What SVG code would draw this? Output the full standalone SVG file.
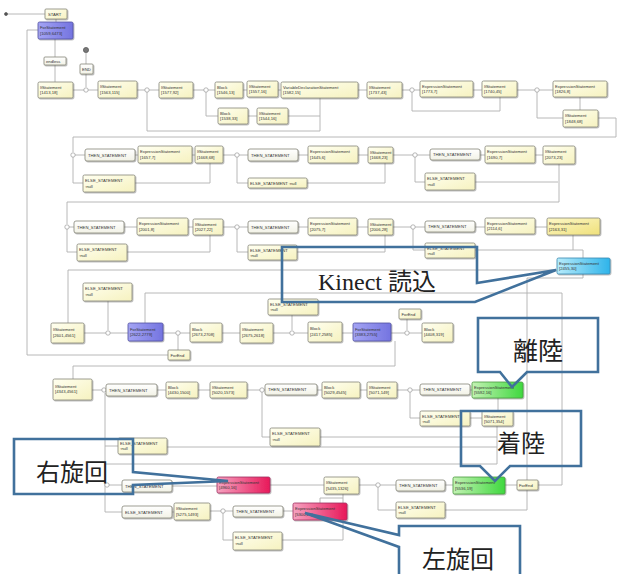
<svg xmlns="http://www.w3.org/2000/svg" width="620" height="574" viewBox="0 0 620 574">
<defs>
<linearGradient id="gy" x1="0" y1="0" x2="1" y2="1"><stop offset="0" stop-color="#fffff0"/><stop offset="1" stop-color="#f6f2c0"/></linearGradient>
<linearGradient id="gy2" x1="0" y1="0" x2="1" y2="1"><stop offset="0" stop-color="#fdf8c8"/><stop offset="1" stop-color="#efe07a"/></linearGradient>
<linearGradient id="gw" x1="0" y1="0" x2="0" y2="1"><stop offset="0" stop-color="#ffffff"/><stop offset="1" stop-color="#f2f2e6"/></linearGradient>
<linearGradient id="gp" x1="0" y1="0" x2="1" y2="0"><stop offset="0" stop-color="#a4a4f4"/><stop offset="1" stop-color="#7474e0"/></linearGradient>
<linearGradient id="gb" x1="0" y1="0" x2="1" y2="0"><stop offset="0" stop-color="#b8ecfb"/><stop offset="1" stop-color="#2fb4ea"/></linearGradient>
<linearGradient id="gg" x1="0" y1="0" x2="1" y2="0"><stop offset="0" stop-color="#c4f2b4"/><stop offset="1" stop-color="#3fd83f"/></linearGradient>
<linearGradient id="gr" x1="0" y1="0" x2="1" y2="0"><stop offset="0" stop-color="#f6a2c0"/><stop offset="1" stop-color="#e8195a"/></linearGradient>
<filter id="sh" x="-10%" y="-10%" width="130%" height="150%"><feDropShadow dx="0.8" dy="0.9" stdDeviation="0.6" flood-color="#000" flood-opacity="0.35"/></filter>
</defs>
<style>
.nd rect{stroke:#858578;stroke-width:0.8;filter:url(#sh)}
.y rect{fill:url(#gy)}
.y2 rect{fill:url(#gy2)}
.w rect{fill:url(#gw)}
.p rect{fill:url(#gp);stroke:#5050a0}
.b rect{fill:url(#gb);stroke:#3a88b0}
.g rect{fill:url(#gg);stroke:#4a9a40}
.r rect{fill:url(#gr);stroke:#a03060}
.nd text{font-family:"Liberation Sans",Arial,sans-serif;font-size:4.2px;fill:#333}
.c path{fill:none;stroke:#b0b0b0;stroke-width:0.9}
.j circle{fill:#fff;stroke:#999;stroke-width:0.7}
.co path{fill:none;stroke:#41719c;stroke-width:2.6;stroke-linejoin:miter}
.co text{font-family:"Liberation Serif","Noto Sans CJK JP",serif;fill:#222}
</style>
<rect width="620" height="574" fill="#fff"/>

<g id="connectors" class="c">
<path d="M6,14 H45"/>
<path d="M56,19 V22"/>
<path d="M55,39 V57"/>
<path d="M55,65 V82"/>
<path d="M73,90 H98"/>
<path d="M86,53 V64 M86,74 V87"/>
<path d="M137,90 H159"/>
<path d="M147,90 V131 H320 V98"/>
<path d="M193,90 H215"/>
<path d="M206,90 V116 H218"/>
<path d="M248,116 H257 M288,116 H320"/>
<path d="M243,90 H247 M278,90 H281 M358,90 H367 M402,90 H420"/>
<path d="M412,90 V111 H500 V97"/>
<path d="M473,90 H482 M517,90 H553"/>
<path d="M537,90 V118 H563"/>
<path d="M580,97 V110"/>
<path d="M598,118 H616 V137 H73 V152"/>
<path d="M73,155 H85 M135,155 H138 M192,155 H195 M223,155 H248 M298,155 H308 M358,155 H368 M393,155 H430 M480,155 H485 M535,155 H543"/>
<path d="M73,155 V183 H83"/>
<path d="M135,183 H210 V163"/>
<path d="M237,155 V183 H248"/>
<path d="M307,183 H385 V163"/>
<path d="M415,155 V182 H425"/>
<path d="M475,182 H558"/>
<path d="M559,164 V202 H67 V224"/>
<path d="M67,227 H74 M124,227 H137 M188,227 H193 M223,227 H248 M298,227 H308 M357,227 H368 M393,227 H425 M475,227 H485 M535,227 H547"/>
<path d="M67,227 V252 H77"/>
<path d="M127,252 H210 V235"/>
<path d="M237,227 V252 H248"/>
<path d="M297,252 H385 V235"/>
<path d="M413,227 V250 H425"/>
<path d="M475,250 H583 V258"/>
<path d="M573,235 V250"/>
<path d="M557,270 H68 V323"/>
<path d="M583,274 V278 H527 V480"/>
<path d="M84,333 H128"/>
<path d="M108,301 V330"/>
<path d="M145,323 V293 H562 V485 H538"/>
<path d="M163,333 H190"/>
<path d="M178,333 V350"/>
<path d="M168,355 H27 V30 H38"/>
<path d="M222,333 H240 M273,333 H308 M342,333 H353 M391,333 H422"/>
<path d="M292,315 V330"/>
<path d="M407,319 V330"/>
<path d="M395,341 V366 H73 V379"/>
<path d="M92,390 H106"/>
<path d="M105,393 V512 H122 M105,446 H118 M105,485 H122"/>
<path d="M157,390 H166 M198,390 H210 M247,390 H265 M317,390 H322 M360,390 H367 M397,390 H420 M470,390 H472"/>
<path d="M262,390 V437 H270"/>
<path d="M410,390 V418 H420 M470,418 H482"/>
<path d="M498,398 V411"/>
<path d="M497,426 V464 H105"/>
<path d="M320,437 H497 M167,447 H497"/>
<path d="M172,486 H217 M270,485 H324 M359,485 H396 M445,485 H453 M505,485 H517"/>
<path d="M378,485 V510 H396"/>
<path d="M445,510 H527 V490"/>
<path d="M172,512 H174 M210,511 H233 M283,511 H293"/>
<path d="M223,511 V540 H233"/>
<path d="M320,503 V498 H343 V494"/>
<path d="M282,540 H343 V498"/>
</g>

<g id="junctions" class="j">
<circle cx="6" cy="14" r="1.5" style="fill:#555;stroke:#555"/>
<circle cx="86" cy="50" r="2.6" style="fill:#777;stroke:#555"/>
<circle cx="86" cy="90" r="2.2"/><circle cx="147" cy="90" r="2.2"/><circle cx="206" cy="90" r="2.2"/><circle cx="412" cy="90" r="2.2"/><circle cx="537" cy="90" r="2.2"/>
<circle cx="73" cy="155" r="2.2"/><circle cx="237" cy="155" r="2.2"/><circle cx="415" cy="155" r="2.2"/>
<circle cx="67" cy="227" r="2.2"/><circle cx="237" cy="227" r="2.2"/><circle cx="413" cy="227" r="2.2"/>
<circle cx="108" cy="333" r="2.2"/><circle cx="178" cy="333" r="2.2"/><circle cx="292" cy="333" r="2.2"/><circle cx="407" cy="333" r="2.2"/>
<circle cx="104" cy="390" r="2.2"/><circle cx="262" cy="390" r="2.2"/><circle cx="410" cy="390" r="2.2"/>
<circle cx="107" cy="485" r="2.2"/><circle cx="378" cy="485" r="2.2"/><circle cx="223" cy="511" r="2.2"/>
</g>

<g id="n_start" class="nd y"><rect x="45" y="9" width="22" height="10" rx="1"/><text x="48" y="15.5">START</text></g>
<g id="n_for1" class="nd p"><rect x="38" y="22" width="35" height="17" rx="1.5"/><text x="40" y="29">ForStatement</text><text x="40" y="34.5">[1059,6473]</text></g>
<g id="n_endless" class="nd w"><rect x="44" y="57" width="22" height="8" rx="1"/><text x="46" y="62.5">endless</text></g>
<g id="n_end" class="nd w"><rect x="80" y="64" width="13" height="10" rx="1"/><text x="82" y="70.5">END</text></g>
<g id="n_if1" class="nd y"><rect x="38" y="82" width="35" height="16" rx="1.5"/><text x="40" y="88.5">IfStatement</text><text x="40" y="94">[1413,18]</text></g>
<g id="n_if2" class="nd y"><rect x="98" y="81" width="39" height="17" rx="1.5"/><text x="100" y="88">IfStatement</text><text x="100" y="93.5">[1563,115]</text></g>
<g id="n_if3" class="nd y"><rect x="159" y="82" width="34" height="16" rx="1.5"/><text x="161" y="88.5">IfStatement</text><text x="161" y="94">[1577,92]</text></g>
<g id="n_blk1" class="nd y"><rect x="215" y="82" width="28" height="16" rx="1.5"/><text x="217" y="88.5">Block</text><text x="217" y="94">[1546,13]</text></g>
<g id="n_if4" class="nd y"><rect x="247" y="81" width="31" height="16" rx="1.5"/><text x="249" y="87.5">IfStatement</text><text x="249" y="93">[1557,16]</text></g>
<g id="n_var" class="nd y"><rect x="281" y="82" width="77" height="16" rx="1.5"/><text x="283" y="88.5">VariableDeclarationStatement</text><text x="283" y="94">[1582,15]</text></g>
<g id="n_blk2" class="nd y"><rect x="218" y="108" width="30" height="16" rx="1.5"/><text x="220" y="114.5">Block</text><text x="220" y="120">[1538,33]</text></g>
<g id="n_if5" class="nd y"><rect x="257" y="108" width="31" height="16" rx="1.5"/><text x="259" y="114.5">IfStatement</text><text x="259" y="120">[1544,16]</text></g>
<g id="n_if6" class="nd y"><rect x="367" y="82" width="35" height="16" rx="1.5"/><text x="369" y="88.5">IfStatement</text><text x="369" y="94">[1737,43]</text></g>
<g id="n_ex1" class="nd y"><rect x="420" y="81" width="53" height="16" rx="1.5"/><text x="422" y="87.5">ExpressionStatement</text><text x="422" y="93">[1773,7]</text></g>
<g id="n_if7" class="nd y"><rect x="482" y="81" width="35" height="16" rx="1.5"/><text x="484" y="87.5">IfStatement</text><text x="484" y="93">[1740,45]</text></g>
<g id="n_ex2" class="nd y"><rect x="553" y="81" width="54" height="16" rx="1.5"/><text x="555" y="87.5">ExpressionStatement</text><text x="555" y="93">[1826,8]</text></g>
<g id="n_if8" class="nd y"><rect x="563" y="110" width="35" height="17" rx="1.5"/><text x="565" y="117">IfStatement</text><text x="565" y="122.5">[1848,68]</text></g>

<g id="n_then1" class="nd w"><rect x="85" y="149" width="50" height="12" rx="2"/><text x="88" y="156.5">THEN_STATEMENT</text></g>
<g id="n_ex3" class="nd y"><rect x="138" y="146" width="54" height="17" rx="1.5"/><text x="140" y="153">ExpressionStatement</text><text x="140" y="158.5">[1657,7]</text></g>
<g id="n_if9" class="nd y"><rect x="195" y="146" width="28" height="17" rx="1.5"/><text x="197" y="153">IfStatement</text><text x="197" y="158.5">[1668,68]</text></g>
<g id="n_then2" class="nd w"><rect x="248" y="149" width="50" height="12" rx="2"/><text x="251" y="156.5">THEN_STATEMENT</text></g>
<g id="n_ex4" class="nd y"><rect x="308" y="146" width="50" height="17" rx="1.5"/><text x="310" y="153">ExpressionStatement</text><text x="310" y="158.5">[1645,6]</text></g>
<g id="n_if10" class="nd y"><rect x="368" y="147" width="25" height="16" rx="1.5"/><text x="370" y="153.5">IfStatement</text><text x="370" y="159">[1668,23]</text></g>
<g id="n_then3" class="nd w"><rect x="430" y="149" width="50" height="11" rx="2"/><text x="433" y="156">THEN_STATEMENT</text></g>
<g id="n_ex5" class="nd y"><rect x="485" y="146" width="50" height="17" rx="1.5"/><text x="487" y="153">ExpressionStatement</text><text x="487" y="158.5">[1690,7]</text></g>
<g id="n_if11" class="nd y"><rect x="543" y="146" width="32" height="18" rx="1.5"/><text x="545" y="153">IfStatement</text><text x="545" y="158.5">[2073,23]</text></g>
<g id="n_else1" class="nd y"><rect x="83" y="175" width="52" height="17" rx="1.5"/><text x="85" y="182">ELSE_STATEMENT</text><text x="85" y="187.5">:null</text></g>
<g id="n_else2" class="nd y"><rect x="248" y="178" width="59" height="10" rx="1.5"/><text x="250" y="184.5">ELSE_STATEMENT :null</text></g>
<g id="n_else3" class="nd y"><rect x="425" y="173" width="50" height="17" rx="1.5"/><text x="427" y="180">ELSE_STATEMENT</text><text x="427" y="185.5">:null</text></g>

<g id="n_then4" class="nd w"><rect x="74" y="221" width="50" height="12" rx="2"/><text x="77" y="228.5">THEN_STATEMENT</text></g>
<g id="n_ex6" class="nd y"><rect x="137" y="218" width="51" height="17" rx="1.5"/><text x="139" y="225">ExpressionStatement</text><text x="139" y="230.5">[2001,8]</text></g>
<g id="n_if12" class="nd y"><rect x="193" y="219" width="30" height="16" rx="1.5"/><text x="195" y="225.5">IfStatement</text><text x="195" y="231">[2027,22]</text></g>
<g id="n_then5" class="nd w"><rect x="248" y="221" width="50" height="12" rx="2"/><text x="251" y="228.5">THEN_STATEMENT</text></g>
<g id="n_ex7" class="nd y"><rect x="308" y="218" width="49" height="17" rx="1.5"/><text x="310" y="225">ExpressionStatement</text><text x="310" y="230.5">[2075,7]</text></g>
<g id="n_if13" class="nd y"><rect x="368" y="219" width="25" height="16" rx="1.5"/><text x="370" y="225.5">IfStatement</text><text x="370" y="231">[2006,28]</text></g>
<g id="n_then6" class="nd w"><rect x="425" y="221" width="50" height="11" rx="2"/><text x="428" y="228">THEN_STATEMENT</text></g>
<g id="n_ex8" class="nd y"><rect x="485" y="218" width="50" height="16" rx="1.5"/><text x="487" y="224.5">ExpressionStatement</text><text x="487" y="230">[2114,6]</text></g>
<g id="n_ex9" class="nd y2"><rect x="547" y="218" width="53" height="17" rx="1.5"/><text x="549" y="225">ExpressionStatement</text><text x="549" y="230.5">[2163,31]</text></g>
<g id="n_blue" class="nd b"><rect x="557" y="258" width="53" height="16" rx="1.5"/><text x="559" y="264.5">ExpressionStatement</text><text x="559" y="270">[2455,30]</text></g>
<g id="n_else4" class="nd y"><rect x="77" y="244" width="50" height="17" rx="1.5"/><text x="79" y="251">ELSE_STATEMENT</text><text x="79" y="256.5">:null</text></g>
<g id="n_else5" class="nd y"><rect x="248" y="245" width="49" height="15" rx="1.5"/><text x="250" y="251.5">ELSE_STATEMENT</text><text x="250" y="257">:null</text></g>
<g id="n_else6" class="nd y"><rect x="425" y="243" width="50" height="15" rx="1.5"/><text x="427" y="249.5">ELSE_STATEMENT</text><text x="427" y="255">:null</text></g>

<g id="n_else7" class="nd y"><rect x="83" y="283" width="49" height="18" rx="1.5"/><text x="85" y="290">ELSE_STATEMENT</text><text x="85" y="295.5">:null</text></g>
<g id="n_if14" class="nd y"><rect x="51" y="323" width="33" height="20" rx="1.5"/><text x="53" y="331">IfStatement</text><text x="53" y="336.5">[2601,4561]</text></g>
<g id="n_for2" class="nd p"><rect x="128" y="323" width="35" height="18" rx="1.5"/><text x="130" y="330.5">ForStatement</text><text x="130" y="336">[2622,2779]</text></g>
<g id="n_forend1" class="nd y"><rect x="168" y="350" width="22" height="10" rx="1"/><text x="170.5" y="356.5">ForEnd</text></g>
<g id="n_blk3" class="nd y"><rect x="190" y="323" width="32" height="19" rx="1.5"/><text x="192" y="330.5">Block</text><text x="192" y="336">[2673,2708]</text></g>
<g id="n_if15" class="nd y"><rect x="240" y="323" width="33" height="20" rx="1.5"/><text x="242" y="331">IfStatement</text><text x="242" y="336.5">[2675,2618]</text></g>
<g id="n_else8" class="nd y"><rect x="268" y="299" width="50" height="16" rx="1.5"/><text x="270" y="305.5">ELSE_STATEMENT</text><text x="270" y="311">:null</text></g>
<g id="n_blk4" class="nd y"><rect x="308" y="322" width="34" height="20" rx="1.5"/><text x="310" y="330">Block</text><text x="310" y="335.5">[2417,2585]</text></g>
<g id="n_for3" class="nd p"><rect x="353" y="323" width="38" height="18" rx="1.5"/><text x="355" y="330.5">ForStatement</text><text x="355" y="336">[3383,2755]</text></g>
<g id="n_forend2" class="nd y"><rect x="399" y="309" width="22" height="10" rx="1"/><text x="401.5" y="315.5">ForEnd</text></g>
<g id="n_blk5" class="nd y"><rect x="422" y="323" width="31" height="19" rx="1.5"/><text x="424" y="330.5">Block</text><text x="424" y="336">[4408,319]</text></g>

<g id="n_if16" class="nd y"><rect x="53" y="379" width="39" height="21" rx="1.5"/><text x="55" y="387.5">IfStatement</text><text x="55" y="393">[4343,4561]</text></g>
<g id="n_then7" class="nd w"><rect x="106" y="384" width="51" height="12" rx="2"/><text x="109" y="391.5">THEN_STATEMENT</text></g>
<g id="n_blk6" class="nd y"><rect x="166" y="382" width="32" height="16" rx="1.5"/><text x="168" y="388.5">Block</text><text x="168" y="394">[4430,1500]</text></g>
<g id="n_if17" class="nd y"><rect x="210" y="382" width="37" height="16" rx="1.5"/><text x="212" y="388.5">IfStatement</text><text x="212" y="394">[5020,1573]</text></g>
<g id="n_then8" class="nd w"><rect x="265" y="384" width="52" height="11" rx="2"/><text x="268" y="391">THEN_STATEMENT</text></g>
<g id="n_blk7" class="nd y"><rect x="322" y="382" width="38" height="16" rx="1.5"/><text x="324" y="388.5">Block</text><text x="324" y="394">[5029,4545]</text></g>
<g id="n_if18" class="nd y"><rect x="367" y="382" width="30" height="16" rx="1.5"/><text x="369" y="388.5">IfStatement</text><text x="369" y="394">[5071,149]</text></g>
<g id="n_then9" class="nd w"><rect x="420" y="384" width="50" height="11" rx="2"/><text x="423" y="391">THEN_STATEMENT</text></g>
<g id="n_green1" class="nd g"><rect x="472" y="382" width="51" height="16" rx="1.5"/><text x="474" y="388.5">ExpressionStatement</text><text x="474" y="394">[5592,16]</text></g>
<g id="n_else9" class="nd y"><rect x="420" y="411" width="50" height="15" rx="1.5"/><text x="422" y="417.5">ELSE_STATEMENT</text><text x="422" y="423">:null</text></g>
<g id="n_if19" class="nd y"><rect x="482" y="411" width="31" height="15" rx="1.5"/><text x="484" y="417.5">IfStatement</text><text x="484" y="423">[5071,354]</text></g>
<g id="n_else10" class="nd y"><rect x="118" y="438" width="49" height="16" rx="1.5"/><text x="120" y="444.5">ELSE_STATEMENT</text><text x="120" y="450">:null</text></g>
<g id="n_else11" class="nd y"><rect x="270" y="428" width="50" height="18" rx="1.5"/><text x="272" y="435">ELSE_STATEMENT</text><text x="272" y="440.5">:null</text></g>

<g id="n_then10" class="nd w"><rect x="122" y="480" width="50" height="12" rx="2"/><text x="125" y="487.5">THEN_STATEMENT</text></g>
<g id="n_red1" class="nd r"><rect x="217" y="477" width="53" height="16" rx="1.5"/><text x="219" y="483.5">ExpressionStatement</text><text x="219" y="489">[4960,16]</text></g>
<g id="n_if20" class="nd y"><rect x="324" y="477" width="35" height="17" rx="1.5"/><text x="326" y="484">IfStatement</text><text x="326" y="489.5">[5435,1326]</text></g>
<g id="n_then11" class="nd w"><rect x="396" y="480" width="49" height="11" rx="2"/><text x="399" y="487">THEN_STATEMENT</text></g>
<g id="n_green2" class="nd g"><rect x="453" y="477" width="52" height="17" rx="1.5"/><text x="455" y="484">ExpressionStatement</text><text x="455" y="489.5">[5536,19]</text></g>
<g id="n_forend3" class="nd y"><rect x="517" y="480" width="21" height="10" rx="1"/><text x="519" y="486.5">ForEnd</text></g>
<g id="n_else12" class="nd y"><rect x="396" y="502" width="49" height="16" rx="1.5"/><text x="398" y="508.5">ELSE_STATEMENT</text><text x="398" y="514">:null</text></g>
<g id="n_else13" class="nd w"><rect x="122" y="506" width="50" height="12" rx="2"/><text x="125" y="513.5">ELSE_STATEMENT</text></g>
<g id="n_if21" class="nd y"><rect x="174" y="503" width="36" height="17" rx="1.5"/><text x="176" y="510">IfStatement</text><text x="176" y="515.5">[5275,1493]</text></g>
<g id="n_then12" class="nd w"><rect x="233" y="506" width="50" height="11" rx="2"/><text x="236" y="513">THEN_STATEMENT</text></g>
<g id="n_red2" class="nd r"><rect x="293" y="503" width="54" height="17" rx="1.5"/><text x="295" y="510">ExpressionStatement</text><text x="295" y="515.5">[5300,21]</text></g>
<g id="n_else14" class="nd y"><rect x="233" y="532" width="49" height="18" rx="1.5"/><text x="235" y="539">ELSE_STATEMENT</text><text x="235" y="544.5">:null</text></g>

<g id="callout_kinect" class="co"><path d="M282,247 H477 V283 L556,270 L475,302 H282 Z"/><text x="318" y="290" font-size="24">Kinect 読込</text></g>
<g id="callout_takeoff" class="co"><path d="M478,318 H598 V372 H527 L512,387 L500,372 H478 Z"/><text x="538" y="360" font-size="25" text-anchor="middle">離陸</text></g>
<g id="callout_landing" class="co"><path d="M461,411 H581 V466 H510 L495,481 L480,466 H461 Z"/><text x="521" y="452" font-size="24" text-anchor="middle">着陸</text></g>
<g id="callout_right" class="co"><path d="M14,439 H133 V472 L228,481 L133,485 V494 H14 Z"/><text x="72" y="481" font-size="24" text-anchor="middle">右旋回</text></g>
<g id="callout_left" class="co"><path d="M399,526 H520 V578 H399 V547 L305,513 L399,535 Z"/><text x="458" y="568" font-size="24" text-anchor="middle">左旋回</text></g>
</svg>
